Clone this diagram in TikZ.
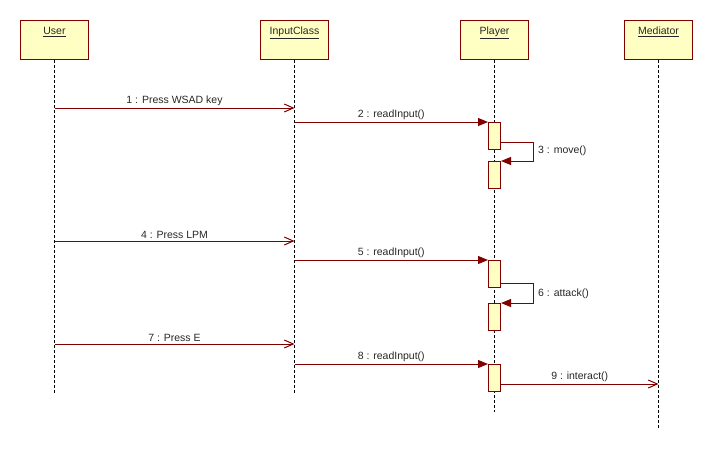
\documentclass[tikz,border=0pt]{standalone}
\usepackage{fontspec}
\setmainfont{Liberation Sans}
\usetikzlibrary{arrows.meta}
\definecolor{umlred}{HTML}{800000}
\definecolor{umlyellow}{HTML}{FFFFC4}
\tikzset{
    head/.style={draw=umlred, fill=umlyellow, line width=1pt, minimum width=68pt, inner xsep=0pt,
        inner ysep=6pt, text height=8pt, text depth=19pt, anchor=north, text=black!85},
    lifeline/.style={line width=1pt, dash pattern=on 3pt off 2pt},
    act/.style={draw=umlred, fill=umlyellow, line width=1pt, minimum width=12pt, minimum height=27pt,
        inner sep=0pt, anchor=north},
    call/.style={umlred, line width=1pt, -{Triangle[length=10pt,width=8pt]}},
    signal/.style={umlred, line width=1pt, -{Straight Barb[length=9pt,width=8pt,line width=1pt]}},
    msg/.style={text=black!85, inner sep=2pt}
}
\begin{document}
\begin{tikzpicture}[x=1pt, y=-1pt, font=\fontsize{10.5}{12}\selectfont]
    \useasboundingbox (0,0) rectangle (713,451);
    %Lifelines
    \foreach \n/\x/\t/\e in {user/54.5/User/393, input/294.5/InputClass/393, player/494.5/Player/412, med/658.5/Mediator/428} {
        \node[head] (\n) at (\x,20) {\underline{\t}};
        \coordinate (\n end) at (\x,\e);
        \draw[lifeline] (\n.south) -- (\n end);
    }
    % message heights
    \foreach \m/\y in {1/108, 3/142, 4/241, 6/283, 7/344, 9/384} {
        \coordinate (m\m) at (0,\y);
    }
    %Activations
    \foreach \a/\y in {1/122, 2/161, 3/260, 4/303, 5/364} {
        \node[act] (a\a) at (494.5,\y) {};
    }
    \draw[signal] (user |- m1) -- node[msg, above] {1 : Press WSAD key} (input |- m1);
    \draw[call] (input |- a1.north west) -- node[msg, above] {2 : readInput()} (a1.north west);
    \draw[call] (a1.east |- m3) -- ++(32,0) |- (a2.north east);
    \node[msg, anchor=west] (l3) at (536,151) {3 : move()};
    \draw[signal] (user |- m4) -- node[msg, above] {4 : Press LPM} (input |- m4);
    \draw[call] (input |- a3.north west) -- node[msg, above] {5 : readInput()} (a3.north west);
    \draw[call] (a3.east |- m6) -- ++(32,0) |- (a4.north east);
    \node[msg, anchor=west] (l6) at (536,294) {6 : attack()};
    \draw[signal] (user |- m7) -- node[msg, above] {7 : Press E} (input |- m7);
    \draw[call] (input |- a5.north west) -- node[msg, above] {8 : readInput()} (a5.north west);
    \draw[signal] (a5.east |- m9) -- node[msg, above] {9 : interact()} (med |- m9);
\end{tikzpicture}
\end{document}
